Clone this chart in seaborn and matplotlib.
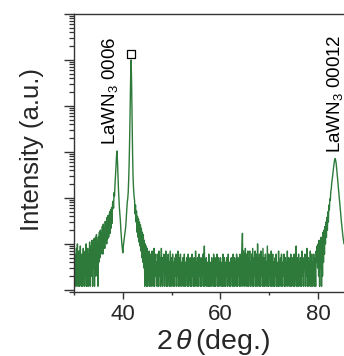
import numpy as np
import pandas as pd
import matplotlib
matplotlib.use("Agg")
import matplotlib.pyplot as plt
import seaborn as sns
from matplotlib.ticker import MultipleLocator, LogLocator, NullFormatter

# ---- scan parameters (XRD 2theta scan) ----
scan_start = 30.0
scan_step = 0.1

# ---- intensity values (a.u.) ----
# 30.0 - 33.9 deg : background noise
seg_a = [9, 1.2, 6, 3, 1.2, 8, 2, 10, 1.2, 4,
         7, 1.2, 3, 9, 2, 1.2, 6, 4, 1.2, 8,
         3, 5, 1.2, 7, 2, 10, 1.2, 4, 8, 1.2,
         6, 3, 11, 1.2, 5, 9, 2, 12, 1.2, 7]
# 34.0 - 37.9 deg : rising tail of the peaks
seg_b = [3, 13, 1.2, 8, 14, 2, 16, 5, 11, 1.2,
         14, 4, 18, 5, 20, 6, 17, 7, 24, 6,
         27, 9, 22, 8, 31, 11, 28, 10, 38, 13,
         42, 14, 36, 50, 17, 55, 22, 62, 28, 75]
# 38.0 - 44.9 deg : LaWN3 0006 and substrate peak
seg_c = [85, 60, 130, 110, 200, 300, 480, 800, 1050, 650,
         300, 160, 100, 60, 45, 32, 20, 14, 10, 8,
         6.4, 9, 11, 13, 16, 20, 24, 35, 55, 80,
         95, 130, 250, 600, 2000, 9000, 40000, 100000, 30000, 5000,
         900, 280, 160, 110, 90, 45, 70, 30, 52, 18,
         40, 14, 35, 11, 30, 9, 26, 7, 22, 5,
         18, 4, 16, 3, 12, 1.2, 10, 2, 9, 1.2]
# 45.0 - 79.9 deg : background noise
seg_d = [8, 1.2, 5, 2, 7, 1.2, 4, 6, 1.2, 3,
         7, 2, 1.2, 5, 8, 1.2, 3, 6, 2, 4,
         1.2, 6, 3, 1.2, 7, 2, 5, 1.2, 4, 8,
         2, 1.2, 5, 3, 6, 1.2, 4, 2, 7, 1.2,
         3, 5, 1.2, 6, 2, 4, 1.2, 7, 3, 1.2,
         5, 2, 6, 1.2, 4, 3, 1.2, 5, 2, 6,
         1.2, 4, 2, 7, 1.2, 3, 5, 1.2, 6, 2,
         4, 1.2, 3, 5, 2, 1.2, 6, 3, 1.2, 4,
         2, 5, 1.2, 3, 6, 1.2, 4, 2, 5, 1.2,
         3, 1.2, 6, 2, 4, 1.2, 5, 3, 1.2, 7,
         2, 4, 1.2, 5, 3, 1.2, 6, 2, 4, 1.2,
         5, 1.2, 3, 2, 6, 1.2, 4, 9, 1.2, 3,
         2, 5, 1.2, 4, 3, 1.2, 6, 2, 1.2, 4,
         3, 1.2, 5, 2, 4, 1.2, 6, 3, 1.2, 5,
         1.2, 4, 2, 6, 1.2, 3, 5, 1.2, 4, 2,
         5, 1.2, 3, 4, 1.2, 6, 2, 1.2, 5, 3,
         1.2, 4, 2, 5, 1.2, 3, 6, 2, 1.2, 4,
         3, 1.2, 5, 2, 4, 1.2, 6, 3, 1.2, 5,
         2, 4, 1.2, 6, 3, 1.2, 5, 2, 4, 1.2,
         6, 2, 1.2, 5, 8, 17, 1.2, 7, 3, 6,
         1.2, 8, 2, 6, 1.2, 4, 7, 1.2, 5, 3,
         7, 1.2, 4, 2, 6, 1.2, 8, 3, 1.2, 5,
         2, 7, 1.2, 4, 6, 1.2, 10, 2, 5, 1.2,
         6, 3, 1.2, 7, 2, 5, 1.2, 8, 3, 1.2,
         5, 1.2, 6, 2, 4, 1.2, 9, 3, 1.2, 6,
         2, 5, 1.2, 4, 7, 1.2, 3, 6, 1.2, 4,
         3, 1.2, 5, 2, 6, 1.2, 4, 3, 1.2, 7,
         1.2, 4, 2, 5, 1.2, 6, 3, 1.2, 4, 2,
         6, 1.2, 3, 5, 1.2, 4, 2, 7, 1.2, 3,
         5, 2, 1.2, 4, 6, 1.2, 3, 5, 2, 1.2,
         4, 6, 1.2, 3, 2, 9, 1.2, 5, 3, 1.2,
         6, 2, 4, 1.2, 5, 3, 1.2, 7, 2, 4,
         1.2, 5, 3, 6, 1.2, 4, 2, 8, 1.2, 3,
         5, 1.2, 4, 2, 7, 1.2, 3, 6, 1.2, 4,
         2, 6, 1.2, 5, 3, 1.2, 7, 4, 9, 3]
# 80.0 - 85.3 deg : LaWN3 00012 peak
seg_e = [10, 2, 12, 1.2, 11, 3, 14, 1.2, 13, 2,
         18, 4, 20, 6, 24, 10, 30, 14, 38, 20,
         50, 30, 70, 55, 95, 90, 140, 160, 220, 260,
         330, 400, 500, 600, 680, 720, 650, 560, 440, 330,
         250, 200, 150, 110, 85, 60, 48, 35, 28, 22,
         18, 14, 12, 10]

intensity = np.array(seg_a + seg_b + seg_c + seg_d + seg_e, dtype=float)
two_theta = scan_start + scan_step * np.arange(len(intensity))
df = pd.DataFrame({"two_theta": two_theta, "intensity": intensity})

# ---- annotations ----
peak_labels = ["LaWN$_3$ 0006", "LaWN$_3$ 00012"]
peak_label_x = [37.4, 83.4]
peak_label_y = [1400, 950]
substrate_x = [41.75]
substrate_y = [1.35e5]

# ---- style ----
sns.set_theme(style="ticks")
plt.rcParams["font.family"] = ["Liberation Sans", "DejaVu Sans"]
plt.rcParams["mathtext.fontset"] = "custom"
plt.rcParams["mathtext.rm"] = "Liberation Sans"
plt.rcParams["mathtext.it"] = "Liberation Sans:italic"
plt.rcParams["mathtext.bf"] = "Liberation Sans:bold"

green = "#2d7a3a"
spine_c = "#333333"

fig = plt.figure(figsize=(3.44, 3.56), dpi=100)
ax = fig.add_axes([74 / 344, 64 / 356, 270 / 344, 278 / 356])

sns.lineplot(data=df, x="two_theta", y="intensity", ax=ax, color=green,
             linewidth=1.0, estimator=None, sort=False)
ax.set_yscale("log")
ax.set_xlim(30, 85.3)
ax.set_ylim(0.9, 1e6)

ax.plot(substrate_x, substrate_y, linestyle="none", marker="s", ms=5.2,
        mfc="white", mec="black", mew=0.9)
for lab, lx, ly in zip(peak_labels, peak_label_x, peak_label_y):
    ax.text(lx, ly, lab, rotation=90, ha="center", va="bottom",
            fontsize=13.5, color="black")

# axes / ticks
for s in ["left", "bottom", "top"]:
    ax.spines[s].set_color(spine_c)
    ax.spines[s].set_linewidth(1.0)
ax.spines["right"].set_visible(False)

ax.xaxis.set_major_locator(MultipleLocator(20))
ax.xaxis.set_minor_locator(MultipleLocator(10))
ax.yaxis.set_major_locator(LogLocator(base=10, numticks=20))
ax.yaxis.set_minor_locator(LogLocator(base=10, subs=np.arange(2, 10), numticks=20))
ax.yaxis.set_major_formatter(NullFormatter())
ax.yaxis.set_minor_formatter(NullFormatter())

ax.tick_params(axis="x", which="major", direction="out", length=5, width=1.0,
               color=spine_c, labelsize=16, pad=4, top=False)
ax.tick_params(axis="x", which="minor", direction="out", length=2.5, width=1.0,
               color=spine_c, top=False)
ax.tick_params(axis="y", which="major", direction="out", length=7, width=1.0,
               color=spine_c, right=False)
ax.tick_params(axis="y", which="minor", direction="out", length=3.4, width=0.9,
               color=spine_c, right=False)

ax.set_xlabel("2$\\,\\theta\\,$(deg.)", fontsize=20.5, va="center")
ax.xaxis.set_label_coords(0.515, -0.18)
ax.set_ylabel("Intensity (a.u.)", fontsize=18.5, va="center")
ax.yaxis.set_label_coords(-0.157, 0.511)

fig.savefig("out.png", dpi=100)
